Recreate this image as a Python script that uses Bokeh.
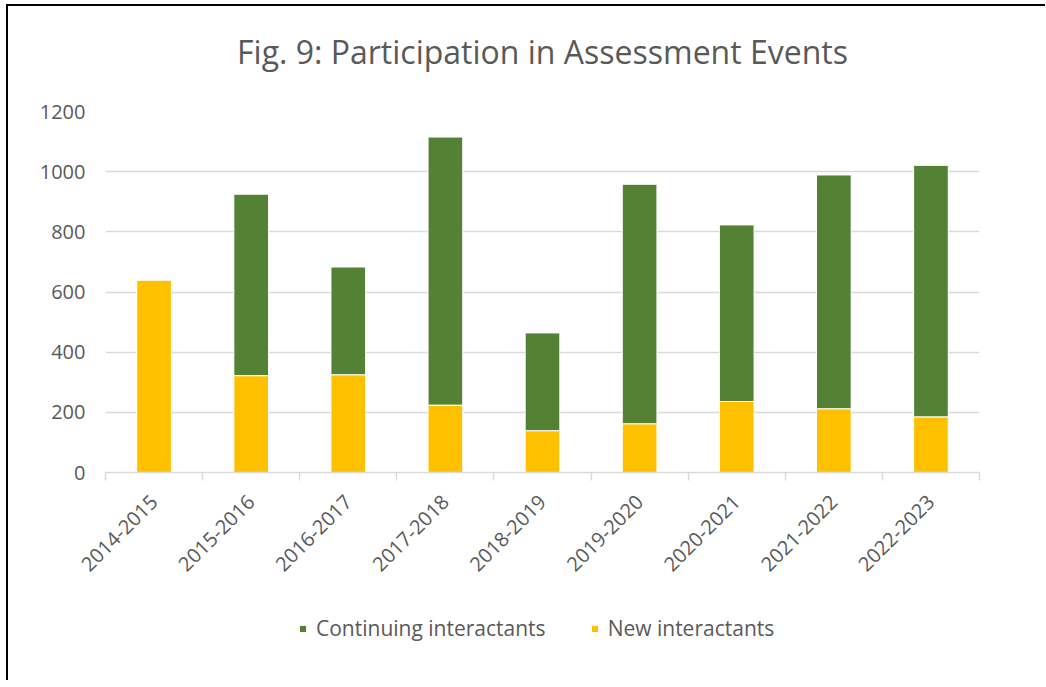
import math
from bokeh.plotting import figure
from bokeh.layouts import column
from bokeh.models import (Range1d, FixedTicker, CustomJSTickFormatter, Legend, LegendItem,
                          ColumnDataSource, Title)
from bokeh.embed import file_html
from bokeh.resources import INLINE

# ---- data ----
seasons = ["2014-2015", "2015-2016", "2016-2017", "2017-2018", "2018-2019",
           "2019-2020", "2020-2021", "2021-2022", "2022-2023"]
new_interactants = [640, 322, 325, 224, 139, 162, 236, 212, 185]
continuing_interactants = [0, 603, 358, 891, 325, 796, 587, 777, 836]
y_ticks = [0, 200, 400, 600, 800, 1000, 1200]

GREEN = "#548235"
YELLOW = "#FFC000"
TXT = "#595959"
GRID = "#d9d9d9"
FONT = "Open Sans"

xs = [i + 0.5 for i in range(len(seasons))]
src = ColumnDataSource(dict(x=xs, new=new_interactants, cont=continuing_interactants))

p = figure(frame_width=872, frame_height=359, output_backend="svg", toolbar_location=None,
           x_range=Range1d(0, len(seasons)), y_range=Range1d(0, 1200),
           min_border_left=97, min_border_right=68, min_border_top=105, min_border_bottom=120,
           background_fill_color="white", border_fill_color="white",
           styles={"border-left": "2px solid black", "border-top": "2px solid black",
                   "margin-left": "6px", "margin-top": "4px"})
p.outline_line_color = None

rs = p.vbar_stack(["new", "cont"], x="x", width=0.357, source=src,
                  fill_color=[YELLOW, GREEN], line_color="white", line_width=1)

# title (outermost) and a small spacer between it and the plot area
p.title.text = "Fig. 9: Participation in Assessment Events"
p.title.text_font = FONT
p.title.text_font_size = "32px"
p.title.text_font_style = "normal"
p.title.text_color = TXT
p.title.align = "center"
p.title.standoff = 41
p.add_layout(Title(text=" ", text_font_size="10px", standoff=5), "above")

# grid
p.xgrid.visible = False
p.ygrid.grid_line_color = GRID
p.ygrid.grid_line_width = 1.3
p.ygrid.ticker = FixedTicker(ticks=y_ticks)

# y axis
p.yaxis.ticker = FixedTicker(ticks=y_ticks)
p.yaxis.axis_line_color = None
p.yaxis.major_tick_line_color = None
p.yaxis.major_tick_out = 0
p.yaxis.major_tick_in = 0
p.yaxis.minor_tick_line_color = None
p.yaxis.major_label_standoff = 20
p.yaxis.major_label_text_font = FONT
p.yaxis.major_label_text_font_size = "20px"
p.yaxis.major_label_text_color = TXT

# x axis
p.xaxis.ticker = FixedTicker(ticks=xs, minor_ticks=list(range(len(seasons) + 1)))
p.xaxis.formatter = CustomJSTickFormatter(args=dict(labels=seasons),
                                          code="return labels[Math.floor(tick)];")
p.xaxis.axis_line_color = GRID
p.xaxis.axis_line_width = 1.5
p.xaxis.major_tick_line_color = None
p.xaxis.major_tick_out = 0
p.xaxis.major_tick_in = 0
p.xaxis.minor_tick_line_color = GRID
p.xaxis.minor_tick_line_width = 1.5
p.xaxis.minor_tick_out = 8
p.xaxis.minor_tick_in = 0
p.xaxis.major_label_orientation = math.pi / 4
p.xaxis.major_label_standoff = 18
p.xaxis.major_label_text_font = FONT
p.xaxis.major_label_text_font_size = "20px"
p.xaxis.major_label_text_color = TXT

# legend strip (same series, drawn out of its visible range so only the legend shows)
lg = figure(width=1037, height=90, output_backend="svg", toolbar_location=None,
            x_range=p.x_range, y_range=Range1d(5000, 6000),
            min_border_left=0, min_border_right=0, min_border_top=0, min_border_bottom=0,
            background_fill_color="white", border_fill_color="white",
            styles={"border-left": "2px solid black", "margin-left": "6px"})
lg.outline_line_color = None
lg.axis.visible = False
lg.grid.visible = False
lrs = lg.vbar_stack(["new", "cont"], x="x", width=0.357, source=src,
                    fill_color=[YELLOW, GREEN], line_color="white", line_width=1)

legend = Legend(items=[LegendItem(label="Continuing interactants", renderers=[lrs[1]]),
                       LegendItem(label="New interactants", renderers=[lrs[0]])],
                orientation="horizontal", location=(193, 38),
                glyph_width=9, glyph_height=9, label_standoff=9, spacing=44, padding=0,
                margin=0,
                label_text_font=FONT, label_text_font_size="21px", label_text_color=TXT,
                border_line_color=None, background_fill_alpha=0)
lg.add_layout(legend)

open("out.html", "w").write(file_html(column(p, lg, spacing=0), INLINE))
